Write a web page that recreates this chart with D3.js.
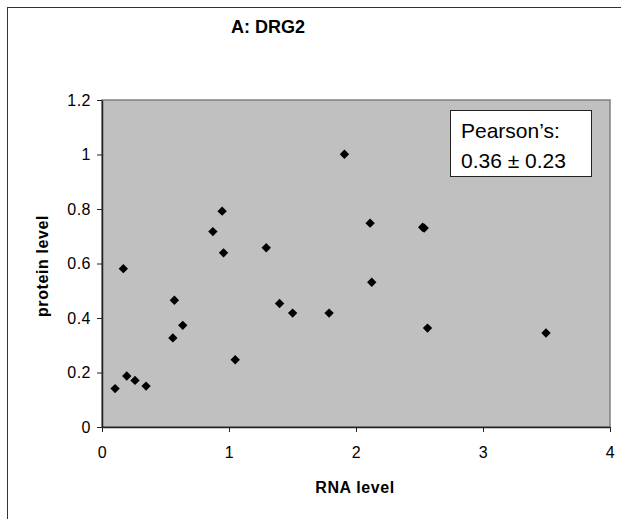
<!DOCTYPE html>
<html>
<head>
<meta charset="utf-8">
<script src="https://cdn.jsdelivr.net/npm/d3@7"></script>
<style>
  html, body { margin: 0; padding: 0; background: #fff; }
  svg { display: block; font-family: "Liberation Sans", Arial, sans-serif; }
</style>
</head>
<body>
<svg id="chart" width="621" height="519"></svg>
<script>
// RNA level vs protein level for DRG2 samples
const rnaLevel = [0.873, 0.946, 0.957, 0.168, 0.570, 0.636, 0.558, 1.049, 0.195, 0.260, 0.347,
                  0.103, 1.909, 1.293, 2.111, 2.537, 2.525, 1.398, 1.501, 1.788, 2.124, 2.563, 3.496];
const proteinLevel = [0.717, 0.792, 0.639, 0.581, 0.465, 0.373, 0.327, 0.247, 0.187, 0.171, 0.150,
                      0.141, 1.001, 0.658, 0.748, 0.730, 0.733, 0.453, 0.418, 0.418, 0.531, 0.363, 0.345];
const xTicks = [0, 1, 2, 3, 4];
const yTicks = [0, 0.2, 0.4, 0.6, 0.8, 1, 1.2];
const titleText = "A: DRG2";
const xTitle = "RNA level";
const yTitle = "protein level";
const statLines = ["Pearson\u2019s:", "0.36 \u00b1 0.23"];

const svg = d3.select("#chart");
const plot = { left: 102, top: 100, right: 610, bottom: 427 };

const x = d3.scaleLinear().domain([0, 4]).range([plot.left, plot.right]);
const y = d3.scaleLinear().domain([0, 1.2]).range([plot.bottom, plot.top]);

// outer frame
svg.append("rect")
  .attr("x", 7.5).attr("y", 7.5)
  .attr("width", 640).attr("height", 540)
  .attr("fill", "#fff").attr("stroke", "#333").attr("stroke-width", 1);

// plot background with gray border on top/right
svg.append("rect")
  .attr("x", plot.left).attr("y", plot.top)
  .attr("width", plot.right - plot.left).attr("height", plot.bottom - plot.top)
  .attr("fill", "#c0c0c0").attr("stroke", "#808080").attr("stroke-width", 1.5);

// axes
const xAxis = svg.append("g")
  .attr("transform", `translate(0,${plot.bottom})`)
  .call(d3.axisBottom(x).tickValues(xTicks).tickFormat(d3.format("d")).tickSizeOuter(0).tickSizeInner(5).tickPadding(15));
const yAxis = svg.append("g")
  .attr("transform", `translate(${plot.left},0)`)
  .call(d3.axisLeft(y).tickValues(yTicks).tickFormat(d => String(+d.toFixed(1))).tickSizeOuter(0).tickSizeInner(5).tickPadding(6));

[xAxis, yAxis].forEach(g => {
  g.select(".domain").attr("stroke", "#222").attr("stroke-width", 1.5);
  g.selectAll(".tick line").attr("stroke", "#222");
  g.selectAll(".tick text")
    .attr("fill", "#000")
    .style("font-family", "'Liberation Sans', Arial, sans-serif")
    .style("font-size", "16px")
    .style("letter-spacing", "0.5px");
});
xAxis.selectAll(".tick line").attr("y2", 5);

// markers: small diamonds
const diamond = d3.symbol().type(d3.symbolSquare).size(44);
svg.append("g")
  .selectAll("path")
  .data(rnaLevel.map((v, i) => [v, proteinLevel[i]]))
  .join("path")
  .attr("d", diamond)
  .attr("transform", d => `translate(${x(d[0])},${y(d[1])}) rotate(45)`)
  .attr("fill", "#000");

// statistic box
const box = svg.append("g");
box.append("rect")
  .attr("x", 450.5).attr("y", 110.5).attr("width", 141).attr("height", 66)
  .attr("fill", "#fff").attr("stroke", "#222").attr("stroke-width", 1);
box.selectAll("text")
  .data(statLines)
  .join("text")
  .attr("x", 461)
  .attr("y", (d, i) => 138 + i * 30)
  .attr("font-size", 21)
  .attr("fill", "#000")
  .text(d => d);

// titles
svg.append("text")
  .attr("x", 268).attr("y", 33)
  .attr("text-anchor", "middle")
  .attr("font-size", 18).attr("font-weight", "bold")
  .text(titleText);

svg.append("text")
  .attr("x", 355).attr("y", 493)
  .attr("text-anchor", "middle")
  .attr("font-size", 16).attr("font-weight", "bold")
  .attr("letter-spacing", "0.6px")
  .text(xTitle);

svg.append("text")
  .attr("transform", `translate(48,266) rotate(-90)`)
  .attr("text-anchor", "middle")
  .attr("font-size", 16).attr("font-weight", "bold")
  .attr("letter-spacing", "0.6px")
  .text(yTitle);
</script>
</body>
</html>
